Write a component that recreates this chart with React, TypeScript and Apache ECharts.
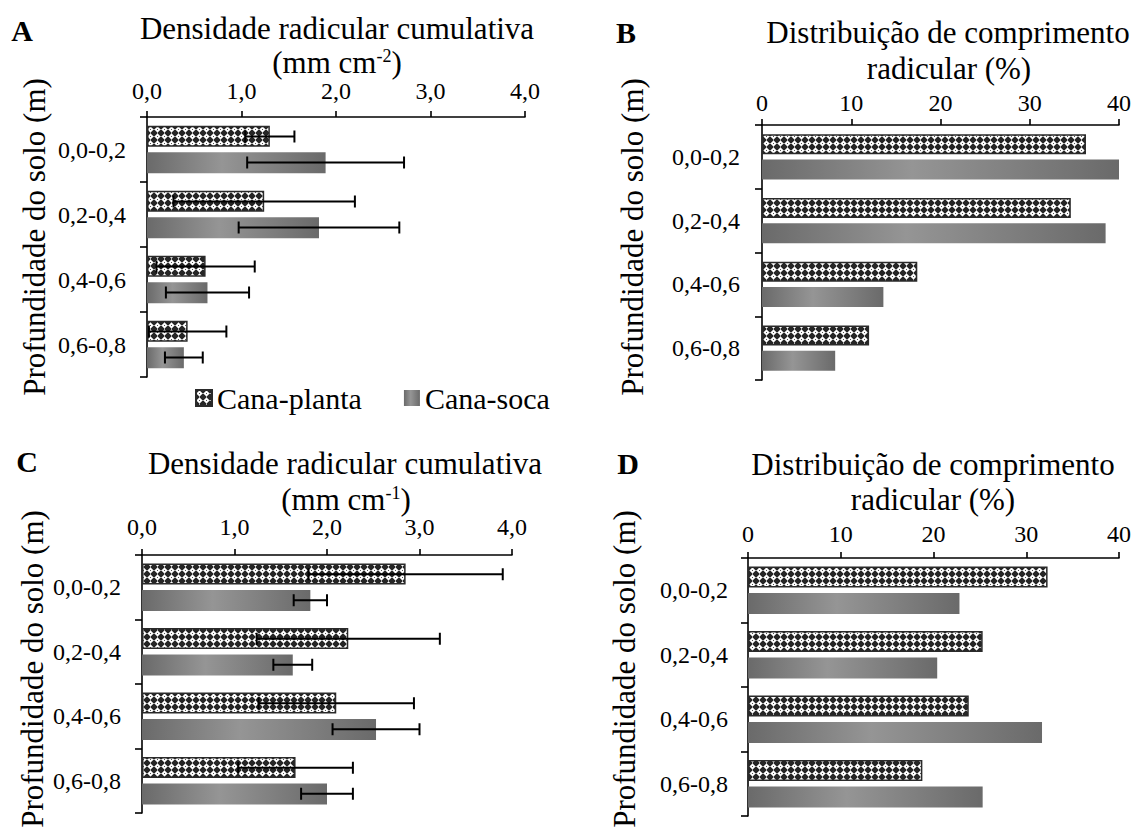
import React, { useEffect, useRef } from 'react';
import * as echarts from 'echarts';

const depths = ['0,0-0,2', '0,2-0,4', '0,4-0,6', '0,6-0,8'];
const seriesNames = ['Cana-planta', 'Cana-soca'];

const aPlanta = [1.30, 1.24, 0.62, 0.43];
const aPlantaErr = [0.26, 0.96, 0.52, 0.41];
const aSoca = [1.89, 1.82, 0.64, 0.39];
const aSocaErr = [0.83, 0.85, 0.44, 0.20];

const bPlanta = [36.3, 34.6, 17.4, 12.0];
const bSoca = [40.0, 38.5, 13.6, 8.2];

const cPlanta = [2.85, 2.23, 2.10, 1.66];
const cPlantaErr = [1.05, 0.99, 0.84, 0.62];
const cSoca = [1.82, 1.63, 2.53, 2.00];
const cSocaErr = [0.18, 0.21, 0.47, 0.28];

const dPlanta = [32.3, 25.3, 23.8, 18.8];
const dSoca = [22.8, 20.4, 31.7, 25.3];

const panelLetters = ['A', 'B', 'C', 'D'];
const densityTitle = 'Densidade radicular cumulativa';
const distTitle = 'Distribuição de comprimento';
const distUnit = 'radicular (%)';
const yName = 'Profundidade do solo (m)';

const FONT = 'Liberation Serif';

function makePattern(): HTMLCanvasElement {
  const n = 7;
  const c = document.createElement('canvas');
  c.width = n;
  c.height = n;
  const ctx = c.getContext('2d')!;
  ctx.fillStyle = '#262626';
  ctx.fillRect(0, 0, n, n);
  for (let y = 0; y < n; y++) {
    for (let x = 0; x < n; x++) {
      const d = Math.abs(x - 3) + Math.abs(y - 3);
      let col = '';
      if (d === 0) col = '#555555';
      else if (d <= 2) col = '#ffffff';
      else if (d === 3) col = '#b4b4b4';
      if (col) {
        ctx.fillStyle = col;
        ctx.fillRect(x, y, 1, 1);
      }
    }
  }
  return c;
}

const grayGrad = {
  type: 'linear', x: 0, y: 0, x2: 1, y2: 0,
  colorStops: [
    { offset: 0, color: '#6a6a6a' },
    { offset: 0.42, color: '#959595' },
    { offset: 1, color: '#6a6a6a' },
  ],
};

export default function App() {
  const ref = useRef<HTMLDivElement>(null);
  useEffect(() => {
    if (!ref.current) return;
    const chart = echarts.init(ref.current, null, { renderer: 'svg' });
    const pattern = { image: makePattern(), repeat: 'repeat', imageWidth: 7, imageHeight: 7 };

    const grids = [
      { left: 147, top: 117, width: 378, height: 260 },
      { left: 762, top: 125, width: 357, height: 255 },
      { left: 142, top: 555, width: 370, height: 258 },
      { left: 748, top: 558, width: 371, height: 258 },
    ];
    const labelMargins = [14, 10, 16, 12];
    const catMargins = [21, 22, 21, 20];
    const barW = [21, 20, 21, 21];

    const xAxes = grids.map((g, i) => {
      const isDensity = i === 0 || i === 2;
      return {
        gridIndex: i,
        type: 'value',
        position: 'top',
        min: 0,
        max: isDensity ? 4 : 40,
        interval: isDensity ? 1 : 10,
        splitLine: { show: false },
        axisLine: { show: true, lineStyle: { color: '#000', width: 1.6 } },
        axisTick: { show: true, length: 6, lineStyle: { color: '#000', width: 1.6 } },
        axisLabel: {
          color: '#000', fontSize: 24, fontFamily: FONT, margin: labelMargins[i],
          formatter: (v: number) => (isDensity ? v.toFixed(1).replace('.', ',') : String(v)),
        },
      };
    });
    const yAxes = grids.map((g, i) => ({
      gridIndex: i,
      type: 'category',
      inverse: true,
      data: depths,
      axisLine: { show: true, lineStyle: { color: '#000', width: 1.6 } },
      axisTick: { show: true, length: 7, lineStyle: { color: '#000', width: 1.6 } },
      axisLabel: { color: '#000', fontSize: 24, fontFamily: FONT, margin: catMargins[i] },
    }));

    const plantaData = [aPlanta, bPlanta, cPlanta, dPlanta];
    const socaData = [aSoca, bSoca, cSoca, dSoca];
    const series: any[] = [];
    for (let i = 0; i < 4; i++) {
      series.push({
        name: seriesNames[0], type: 'bar', xAxisIndex: i, yAxisIndex: i,
        data: plantaData[i], barWidth: barW[i], barGap: '26%',
        itemStyle: { color: pattern, borderColor: '#2a2a2a', borderWidth: 1.5 },
      });
      series.push({
        name: seriesNames[1], type: 'bar', xAxisIndex: i, yAxisIndex: i,
        data: socaData[i], barWidth: barW[i], barGap: '26%',
        itemStyle: { color: grayGrad },
      });
    }

    const errSeries = (axis: number, vals: number[], errs: number[], offset: number) => ({
      type: 'custom', xAxisIndex: axis, yAxisIndex: axis, z: 10, silent: true,
      encode: { x: [1, 2], y: 0 },
      data: vals.map((v, k) => [k, v - errs[k], v + errs[k]]),
      renderItem: (params: any, api: any) => {
        const k = api.value(0);
        const p1 = api.coord([api.value(1), k]);
        const p2 = api.coord([api.value(2), k]);
        const y = p1[1] + offset;
        const st = { stroke: '#000', lineWidth: 2 };
        return {
          type: 'group',
          children: [
            { type: 'line', shape: { x1: p1[0], y1: y, x2: p2[0], y2: y }, style: st },
            { type: 'line', shape: { x1: p1[0], y1: y - 6, x2: p1[0], y2: y + 6 }, style: st },
            { type: 'line', shape: { x1: p2[0], y1: y - 6, x2: p2[0], y2: y + 6 }, style: st },
          ],
        };
      },
    });
    series.push(errSeries(0, aPlanta, aPlantaErr, -13));
    series.push(errSeries(0, aSoca, aSocaErr, 13));
    series.push(errSeries(2, cPlanta, cPlantaErr, -13));
    series.push(errSeries(2, cSoca, cSocaErr, 13));

    const txt = (x: number, y: number, text: string, size: number, extra: any = {}) => ({
      type: 'text', x, y,
      style: {
        text, fontSize: size, fontFamily: FONT, fill: '#000',
        textAlign: 'center', textVerticalAlign: 'middle', ...extra,
      },
    });
    const supRich = { sup: { fontSize: 18, fontFamily: FONT, verticalAlign: 'top', fill: '#000' } };

    const graphic = [
      txt(22, 30, panelLetters[0], 30, { fontWeight: 'bold' }),
      txt(626, 32, panelLetters[1], 30, { fontWeight: 'bold' }),
      txt(27, 461, panelLetters[2], 30, { fontWeight: 'bold' }),
      txt(628, 463, panelLetters[3], 30, { fontWeight: 'bold' }),
      txt(337, 28, densityTitle, 31),
      txt(337, 62, '(mm cm{sup|-2})', 31, { rich: supRich }),
      txt(948, 32, distTitle, 31),
      txt(949, 68, distUnit, 31),
      txt(345, 463, densityTitle, 31),
      txt(346, 499, '(mm cm{sup|-1})', 31, { rich: supRich }),
      txt(933, 464, distTitle, 31),
      txt(933, 499, distUnit, 31),
      { ...txt(34, 237, yName, 31), rotation: Math.PI / 2 },
      { ...txt(632, 237, yName, 31), rotation: Math.PI / 2 },
      { ...txt(32, 669, yName, 31), rotation: Math.PI / 2 },
      { ...txt(624, 669, yName, 31), rotation: Math.PI / 2 },
    ];

    chart.setOption({
      animation: false,
      backgroundColor: '#fff',
      grid: grids,
      xAxis: xAxes,
      yAxis: yAxes,
      legend: {
        left: 195, top: 383, padding: 0, itemWidth: 16, itemHeight: 16, itemGap: 42,
        icon: 'rect', data: seriesNames,
        textStyle: { fontSize: 30, fontFamily: FONT, color: '#000' },
      },
      graphic,
      series,
    });
    return () => chart.dispose();
  }, []);
  return <div ref={ref} style={{ position: 'absolute', left: 0, top: 0, width: 1138, height: 834 }} />;
}
